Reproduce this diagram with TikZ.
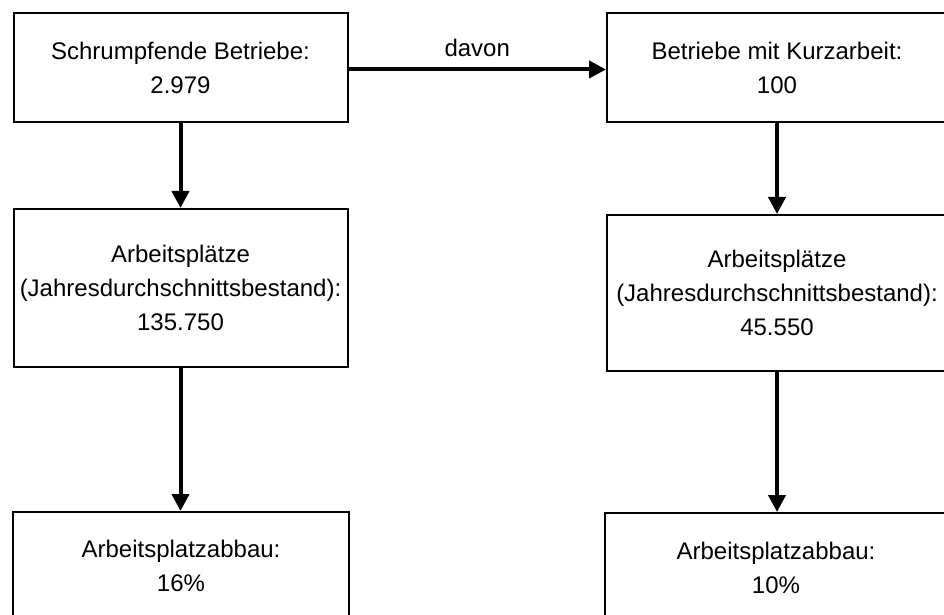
\documentclass[tikz,border=0pt]{standalone}
\usepackage{fontspec}
\setmainfont{Liberation Sans}
\usepackage{tikz}
\usetikzlibrary{positioning, calc, arrows.meta}

\begin{document}
\begin{tikzpicture}[x=0.5pt, y=-0.5pt,
    box/.style={draw, line width=1pt, rectangle, align=center, inner sep=0pt,
        font=\fontsize{12}{17}\selectfont},
    flow/.style={line width=2pt, -{Triangle[width=8.5pt, length=8.5pt]}}]
    % Fix the page size
    \useasboundingbox (0,0) rectangle (944,615);

    % Draw left column
    \node[box, minimum width=167pt, minimum height=54.5pt] (schrumpf) at (180.5,67.5)
        {Schrumpfende Betriebe:\\2.979};
    \node[box, minimum width=167pt, minimum height=79pt] (plaetzeL) at (180.5,288)
        {Arbeitsplätze\\(Jahresdurchschnittsbestand):\\135.750};
    \node[box, minimum width=168pt, minimum height=54pt] (abbauL) at (181,566)
        {Arbeitsplatzabbau:\\16\%};

    % Draw right column
    \node[box, minimum width=170pt, minimum height=54.5pt] (kurz) at (777,67.5)
        {Betriebe mit Kurzarbeit:\\100};
    \node[box, minimum width=170pt, minimum height=78pt] (plaetzeR) at (777,293)
        {Arbeitsplätze\\(Jahresdurchschnittsbestand):\\45.550};
    \node[box, minimum width=171pt, minimum height=55pt] (abbauR) at (776,568)
        {Arbeitsplatzabbau:\\10\%};

    % Add arrows
    \draw[flow] ([yshift=-1pt]schrumpf.east) -- node[above=2pt, font=\fontsize{12}{14}\selectfont] (davon) {davon} ([yshift=-1pt]kurz.west);
    \draw[flow] (schrumpf.south) -- (plaetzeL.north);
    \draw[flow] (plaetzeL.south) -- (plaetzeL.south |- abbauL.north);
    \draw[flow] (kurz.south) -- (plaetzeR.north);
    \draw[flow] (plaetzeR.south) -- (plaetzeR.south |- abbauR.north);
\end{tikzpicture}
\end{document}
